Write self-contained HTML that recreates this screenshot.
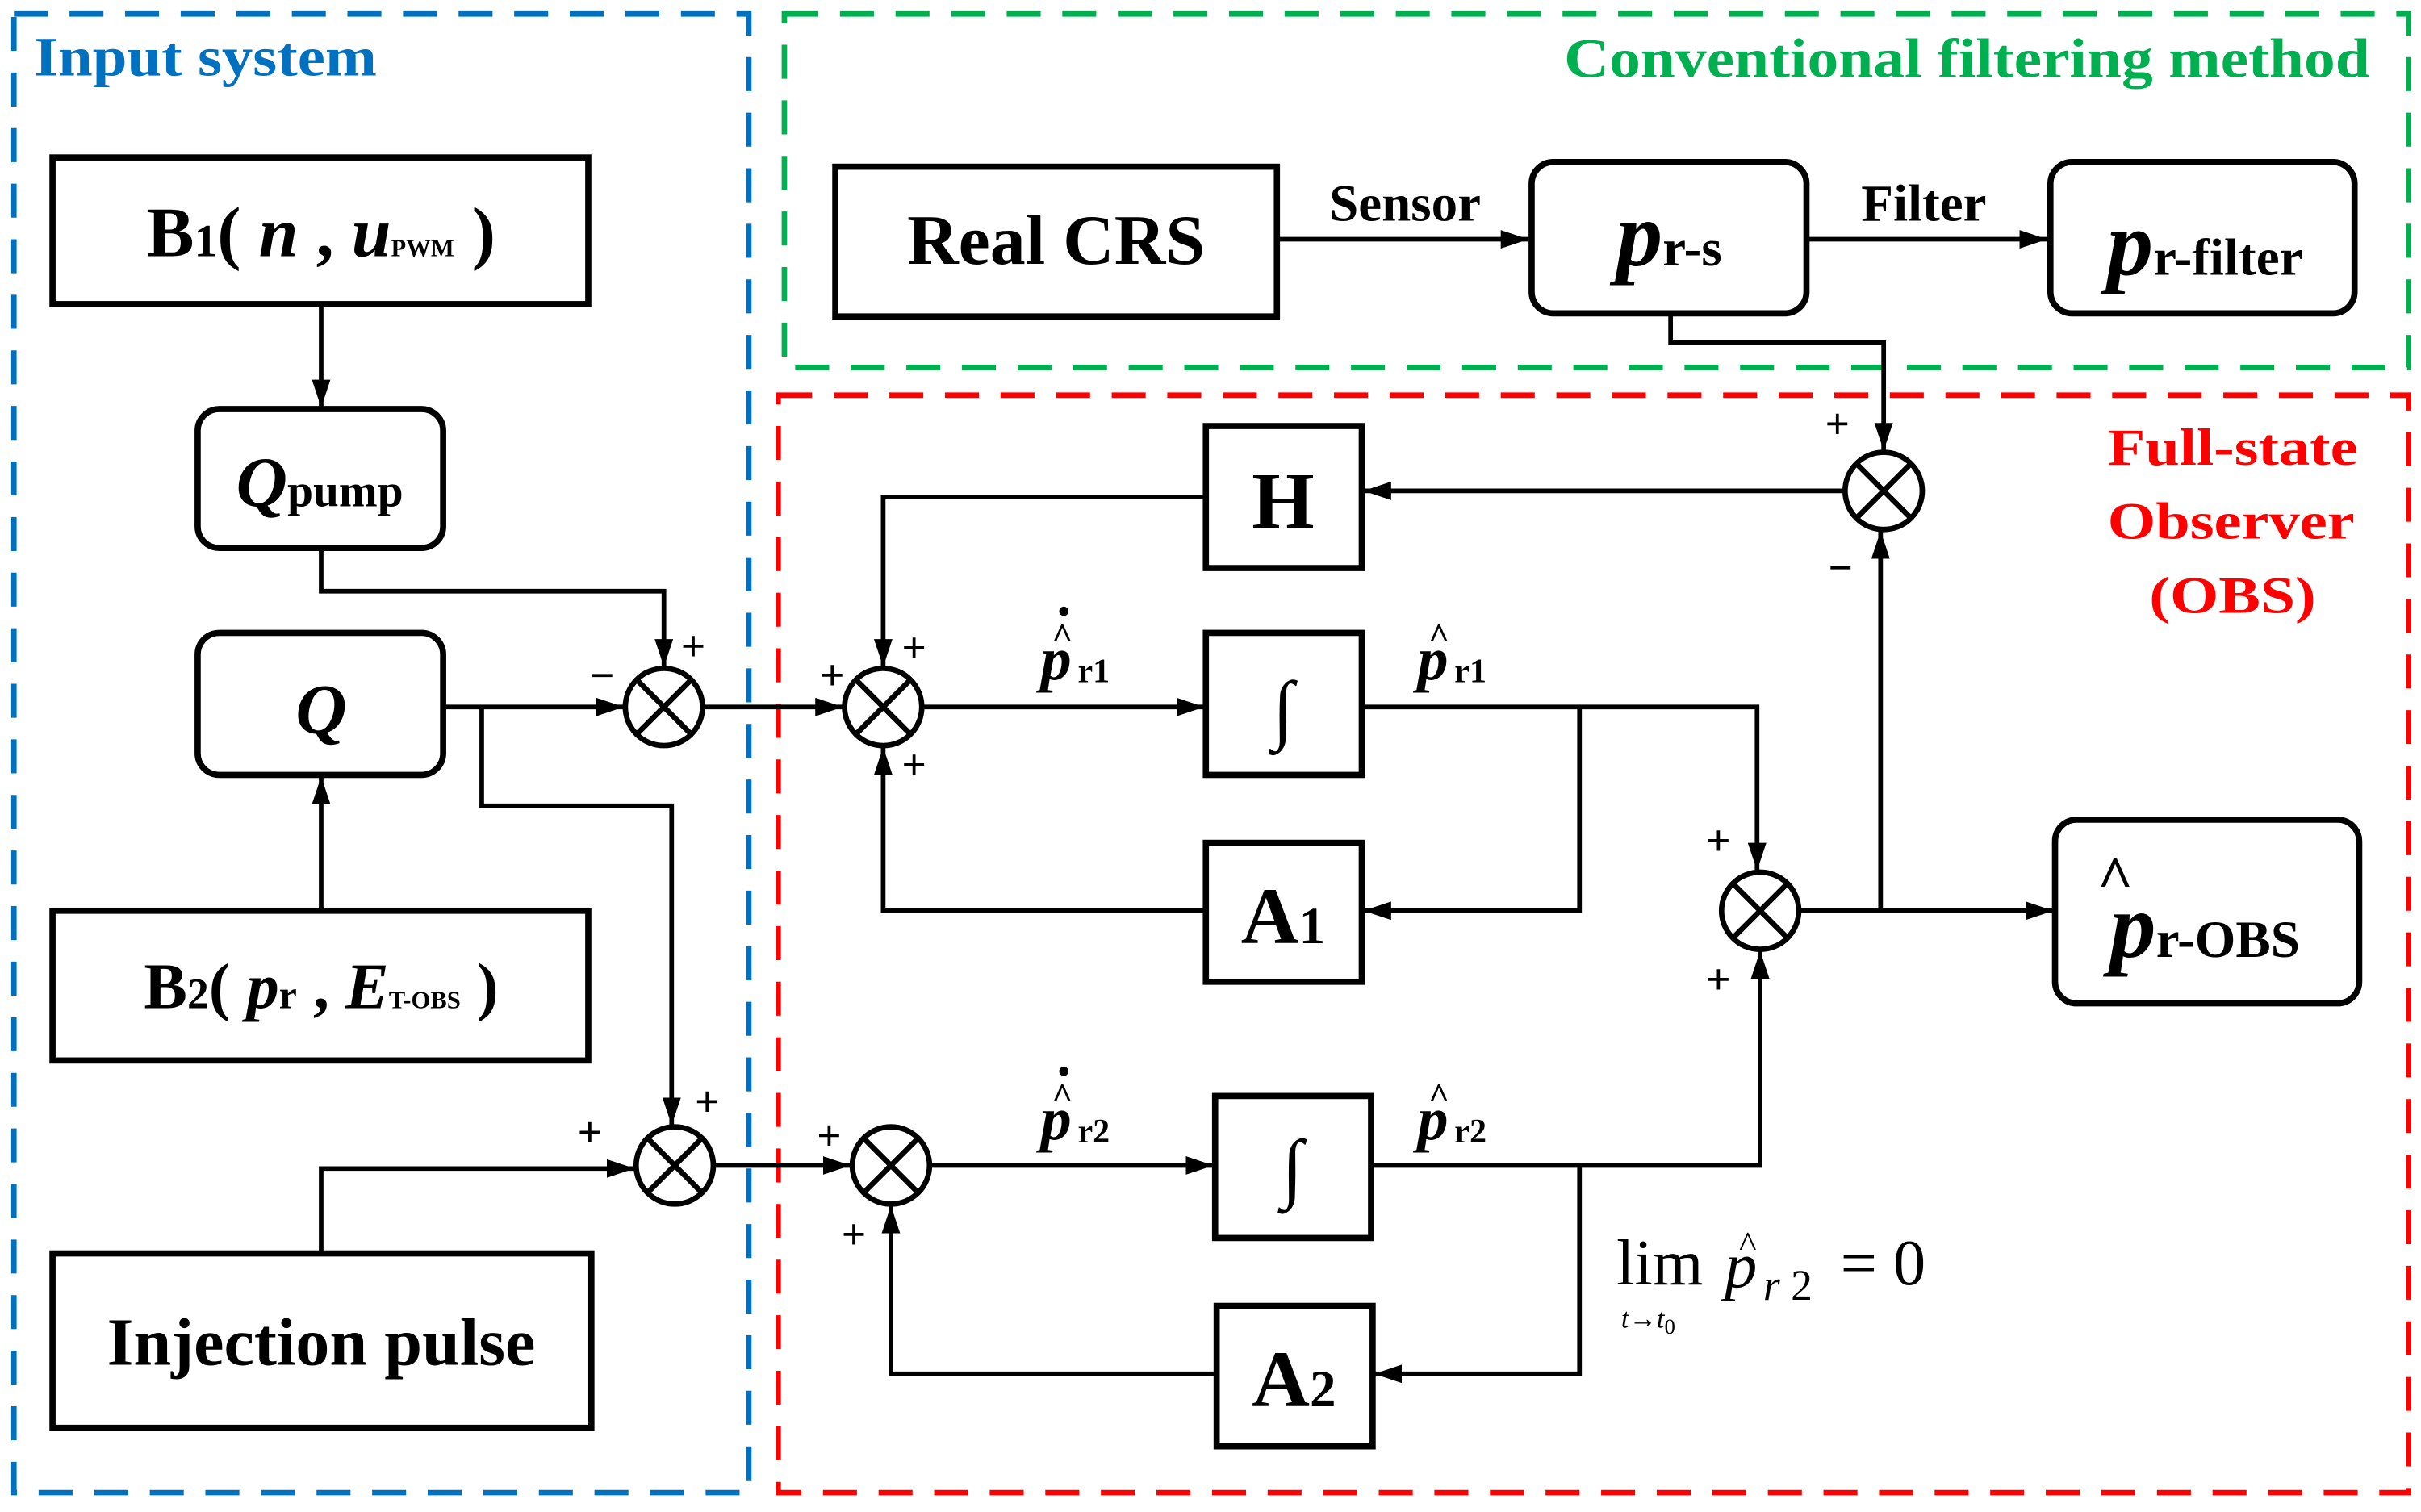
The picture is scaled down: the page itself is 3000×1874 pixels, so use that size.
<!DOCTYPE html>
<html><head><meta charset="utf-8"><style>
html,body{margin:0;padding:0;background:#fff}
svg{display:block}
text{font-family:"Liberation Serif",serif;font-weight:bold}
text.n{font-weight:normal}
</style></head><body>
<svg width="3000" height="1874" viewBox="0 0 1568 979.5" xmlns="http://www.w3.org/2000/svg">
<defs>
<marker id="b" markerWidth="18" markerHeight="12" refX="18" refY="6" orient="auto" markerUnits="userSpaceOnUse" viewBox="0 0 18 12">
<path d="M0,0 L18,6 L0,12 z" fill="#000"/></marker>
<g id="sum"><circle r="25" fill="#fff" stroke="#000" stroke-width="3.5"/><path d="M-17.7,-17.7 L17.7,17.7 M17.7,-17.7 L-17.7,17.7" stroke="#000" stroke-width="3.5"/></g>
</defs>
<rect x="9" y="9" width="476" height="958" fill="none" stroke="#0070C0" stroke-width="3.5" stroke-dasharray="22,14"/>
<rect x="508" y="9" width="1052" height="229" fill="none" stroke="#00B050" stroke-width="3.5" stroke-dasharray="22,14"/>
<rect x="504" y="256" width="1056" height="711" fill="none" stroke="#FF0000" stroke-width="3.5" stroke-dasharray="22,14"/>
<text x="22" y="49" font-size="36" fill="#0070C0" textLength="222" lengthAdjust="spacingAndGlyphs">Input system</text>
<text x="1013" y="50" font-size="36" fill="#00B050" textLength="522" lengthAdjust="spacingAndGlyphs">Conventional filtering method</text>
<g font-size="34" fill="#FF0000">
<text x="1365" y="301" textLength="162" lengthAdjust="spacingAndGlyphs">Full-state</text>
<text x="1365" y="349" textLength="160" lengthAdjust="spacingAndGlyphs">Observer</text>
<text x="1392" y="397" textLength="108" lengthAdjust="spacingAndGlyphs">(OBS)</text></g>

<g fill="none" stroke="#000" stroke-width="4">
<rect x="34" y="102" width="347" height="95"/>
<rect x="128" y="265" width="159" height="90" rx="14"/>
<rect x="128" y="410" width="159" height="92" rx="14"/>
<rect x="34" y="590" width="347" height="97"/>
<rect x="34" y="812" width="349" height="113"/>
<rect x="541" y="108" width="286" height="97"/>
<rect x="992" y="105" width="178" height="98" rx="14"/>
<rect x="1328" y="105" width="197" height="98" rx="14"/>
<rect x="781" y="276" width="101" height="92"/>
<rect x="781" y="410" width="101" height="92"/>
<rect x="781" y="546" width="101" height="90"/>
<rect x="787" y="710" width="101" height="92"/>
<rect x="788" y="846" width="101" height="91"/>
<rect x="1331" y="531" width="197" height="119" rx="14"/>
</g>

<g fill="none" stroke="#000" stroke-width="3">
<path d="M208,197 V264" marker-end="url(#b)"/>
<path d="M208,590 V503" marker-end="url(#b)"/>
<path d="M208,355 V383 H430 V432" marker-end="url(#b)"/>
<path d="M287,458 H404" marker-end="url(#b)"/>
<path d="M312,458 V522 H435 V729" marker-end="url(#b)"/>
<path d="M208,812 V757 H411" marker-end="url(#b)"/>
<path d="M455,458 H546" marker-end="url(#b)"/>
<path d="M597,458 H780" marker-end="url(#b)"/>
<path d="M882,458 H1138 V564" marker-end="url(#b)"/>
<path d="M1023,458 V590 H883" marker-end="url(#b)"/>
<path d="M781,590 H572 V484" marker-end="url(#b)"/>
<path d="M1195,318 H883" marker-end="url(#b)"/>
<path d="M781,322 H572 V432" marker-end="url(#b)"/>
<path d="M1165,590 H1330" marker-end="url(#b)"/>
<path d="M1218,590 V344" marker-end="url(#b)"/>
<path d="M1082,203 V222 H1220 V292" marker-end="url(#b)"/>
<path d="M827,155 H990" marker-end="url(#b)"/>
<path d="M1170,155 H1326" marker-end="url(#b)"/>
<path d="M462,755 H551" marker-end="url(#b)"/>
<path d="M602,755 H786" marker-end="url(#b)"/>
<path d="M888,755 H1140 V616" marker-end="url(#b)"/>
<path d="M1023,755 V890 H890" marker-end="url(#b)"/>
<path d="M788,890 H577 V781" marker-end="url(#b)"/>
</g>

<use href="#sum" x="430" y="458"/>
<use href="#sum" x="572" y="458"/>
<use href="#sum" x="437" y="755"/>
<use href="#sum" x="577" y="755"/>
<use href="#sum" x="1140" y="590"/>
<use href="#sum" x="1220" y="318"/>

<g font-size="28" text-anchor="middle">
<text x="390" y="447">−</text><text x="449" y="428">+</text>
<text x="539" y="447">+</text><text x="592" y="429">+</text><text x="592" y="505">+</text>
<text x="382" y="743">+</text><text x="458" y="723">+</text>
<text x="537" y="745">+</text><text x="553" y="809">+</text>
<text x="1113" y="554">+</text><text x="1113" y="644">+</text>
<text x="1190" y="284">+</text><text x="1192" y="377">−</text>
</g>

<text x="208" y="166" font-size="46" text-anchor="middle">B<tspan font-size="30">1</tspan>( <tspan font-style="italic">n</tspan> , <tspan font-style="italic">u</tspan><tspan font-size="16" class="n">PWM</tspan> )</text>
<text x="207" y="328" font-size="46" text-anchor="middle"><tspan font-style="italic">Q</tspan><tspan font-size="30">pump</tspan></text>
<text x="208" y="475" font-size="46" text-anchor="middle" font-style="italic">Q</text>
<text x="208" y="653" font-size="42" text-anchor="middle">B<tspan font-size="28">2</tspan>( <tspan font-style="italic">p</tspan><tspan font-size="26">r</tspan> , <tspan font-style="italic">E</tspan><tspan font-size="16" class="n">T-OBS</tspan>  )</text>
<text x="208" y="884" font-size="44" text-anchor="middle">Injection pulse</text>
<text x="684" y="171" font-size="46" text-anchor="middle">Real CRS</text>
<text x="910" y="143" font-size="34" text-anchor="middle">Sensor</text>
<text x="1246" y="143" font-size="34" text-anchor="middle">Filter</text>
<text x="1081" y="172" font-size="60" text-anchor="middle"><tspan font-style="italic">p</tspan><tspan font-size="34">r-s</tspan></text>
<text x="1428" y="178" font-size="60" text-anchor="middle"><tspan font-style="italic">p</tspan><tspan font-size="34">r-filter</tspan></text>
<text x="831" y="342" font-size="52" text-anchor="middle">H</text>
<text x="831" y="476" font-size="50" text-anchor="middle" class="n">∫</text>
<text x="837" y="773" font-size="50" text-anchor="middle" class="n">∫</text>
<text x="831" y="611" font-size="52" text-anchor="middle">A<tspan font-size="34">1</tspan></text>
<text x="838" y="911" font-size="52" text-anchor="middle">A<tspan font-size="34">2</tspan></text>
<text x="1428" y="620" font-size="60" text-anchor="middle"><tspan font-style="italic">p</tspan><tspan font-size="34">r-OBS</tspan></text>
<text x="1370" y="582" font-size="40" text-anchor="middle">^</text>

<text x="674" y="440" font-size="40" font-style="italic">p</text><text x="698" y="442" font-size="22">r1</text>
<text x="688" y="420" font-size="24" text-anchor="middle">^</text><circle cx="689" cy="396" r="3" fill="#000"/>
<text x="918" y="440" font-size="40" font-style="italic">p</text><text x="942" y="442" font-size="22">r1</text>
<text x="932" y="420" font-size="24" text-anchor="middle">^</text>
<text x="674" y="738" font-size="40" font-style="italic">p</text><text x="698" y="740" font-size="22">r2</text>
<text x="688" y="718" font-size="24" text-anchor="middle">^</text><circle cx="689" cy="694" r="3" fill="#000"/>
<text x="918" y="738" font-size="40" font-style="italic">p</text><text x="942" y="740" font-size="22">r2</text>
<text x="932" y="718" font-size="24" text-anchor="middle">^</text>

<text x="1047" y="832" font-size="42" class="n">lim</text>
<text x="1050" y="860" font-size="18" class="n" font-style="italic">t→t<tspan font-style="normal" font-size="14" dy="4">0</tspan></text>
<text x="1117" y="834" font-size="42" class="n" font-style="italic">p</text>
<text x="1132" y="814" font-size="24" class="n" text-anchor="middle">^</text>
<text x="1142" y="842" font-size="28" class="n"><tspan font-style="italic">r</tspan> 2</text>
<text x="1192" y="832" font-size="42" class="n">= 0</text>
</svg>
</body></html>
